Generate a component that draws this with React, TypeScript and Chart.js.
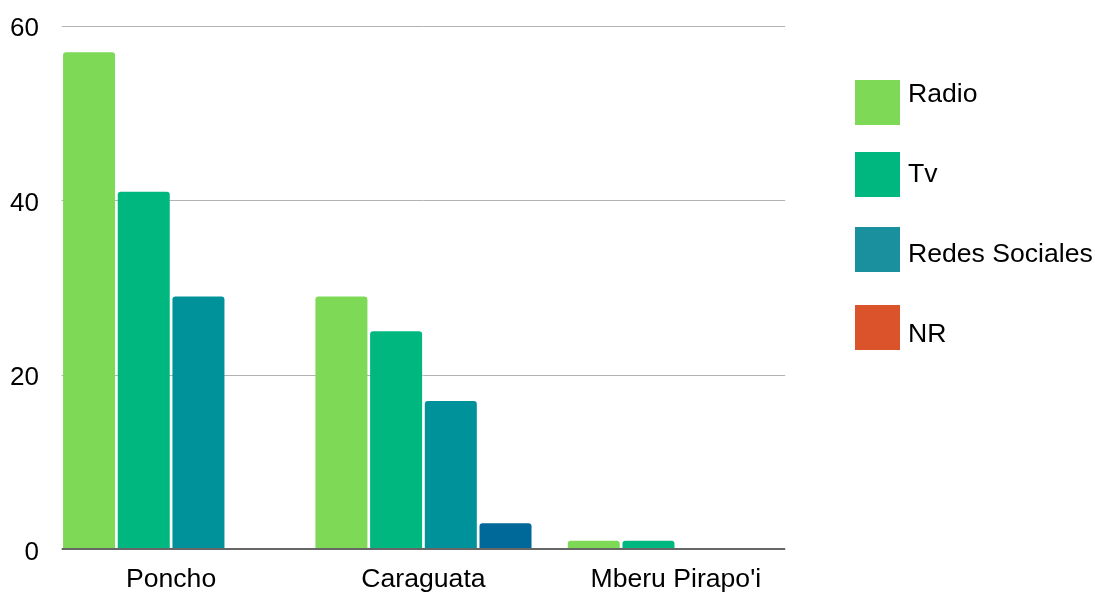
import { useEffect, useRef } from "react";
import { Chart, registerables } from "chart.js";

Chart.register(...registerables);

const categories = ["Poncho", "Caraguata", "Mberu Pirapo'i"];
const seriesNames = ["Radio", "Tv", "Redes Sociales", "NR"];
const radio = [57, 29, 1];
const tv = [41, 25, 1];
const redesSociales = [29, 17, 0];
const nr = [0, 3, 0];
const yTicks = [0, 20, 40, 60];

const barColors = ["#7ed957", "#00b87f", "#00929a", "#00699a"];
const legendColors = ["#7ed957", "#00b87f", "#1a909f", "#db532b"];

const FONT = "'Liberation Sans', Arial, sans-serif";
const CAT_PCT = 0.867;
const BAR_PCT = 0.951;

const gridPlugin = {
  id: "insetGrid",
  beforeDatasetsDraw(chart: any) {
    const { ctx, chartArea, scales } = chart;
    const xs = scales.x;
    const ys = scales.y;
    const inset = ((xs.width / categories.length) * (1 - CAT_PCT)) / 2;
    ctx.save();
    ctx.strokeStyle = "#b3b3b3";
    ctx.lineWidth = 1;
    yTicks.forEach((v) => {
      if (v === 0) return;
      const py = Math.round(ys.getPixelForValue(v)) + 0.5;
      ctx.beginPath();
      ctx.moveTo(chartArea.left + inset, py);
      ctx.lineTo(chartArea.right - inset, py);
      ctx.stroke();
    });
    ctx.restore();
  },
  afterDatasetsDraw(chart: any) {
    const { ctx, chartArea, scales } = chart;
    const xs = scales.x;
    const ys = scales.y;
    const inset = ((xs.width / categories.length) * (1 - CAT_PCT)) / 2;
    const py = Math.round(ys.getPixelForValue(0));
    ctx.save();
    ctx.strokeStyle = "#666666";
    ctx.lineWidth = 2;
    ctx.beginPath();
    ctx.moveTo(chartArea.left + inset, py);
    ctx.lineTo(chartArea.right - inset, py);
    ctx.stroke();
    ctx.restore();
  },
};

const legendPlugin = {
  id: "customLegend",
  afterDraw(chart: any) {
    const { ctx, chartArea } = chart;
    ctx.save();
    ctx.font = `26.6px ${FONT}`;
    ctx.textBaseline = "alphabetic";
    ctx.textAlign = "left";
    const boxTops = [54, 126, 201, 279];
    seriesNames.forEach((name, i) => {
      const bx = chartArea.right + 53;
      const by = chartArea.top + boxTops[i];
      ctx.fillStyle = legendColors[i];
      ctx.fillRect(bx, by, 45, 45);
      ctx.fillStyle = "#000000";
      ctx.fillText(name, bx + 53, chartArea.top + 76 + 80 * i);
    });
    ctx.restore();
  },
};

export default function App() {
  const ref = useRef<HTMLCanvasElement | null>(null);

  useEffect(() => {
    document.body.style.margin = "0";
    const canvas = ref.current;
    if (!canvas) return;
    const seriesData = [radio, tv, redesSociales, nr];
    const chart = new Chart(canvas, {
      type: "bar",
      data: {
        labels: categories,
        datasets: seriesNames.map((name, i) => ({
          label: name,
          data: seriesData[i],
          backgroundColor: barColors[i],
          borderWidth: 0,
          borderRadius: 3,
          categoryPercentage: CAT_PCT,
          barPercentage: BAR_PCT,
        })),
      },
      options: {
        responsive: false,
        animation: false,
        layout: { padding: { left: 4, right: 293, top: 26, bottom: -18 } },
        plugins: {
          legend: { display: false },
          tooltip: { enabled: false },
        },
        scales: {
          x: {
            grid: { display: false, drawTicks: false },
            border: { display: false },
            ticks: {
              font: { family: FONT, size: 26.6, lineHeight: 1 },
              color: "#000000",
              padding: 17,
              maxRotation: 0,
            },
          },
          y: {
            min: 0,
            max: 60,
            grid: { display: false, drawTicks: false, tickLength: 0 },
            border: { display: false },
            ticks: {
              stepSize: 20,
              font: { family: FONT, size: 26 },
              color: "#000000",
              padding: 6,
              labelOffset: 3,
            },
          },
        },
      },
      plugins: [gridPlugin, legendPlugin],
    });
    return () => chart.destroy();
  }, []);

  return (
    <div style={{ width: 1095, height: 592 }}>
      <canvas ref={ref} width={1095} height={592} style={{ display: "block" }} />
    </div>
  );
}
